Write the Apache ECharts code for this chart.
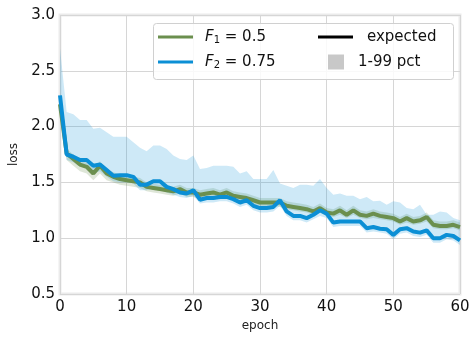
<!DOCTYPE html>
<html>
<head>
<meta charset="utf-8">
<style>
  html, body { margin: 0; padding: 0; background: #fff; }
  #chart { width: 474px; height: 337px; }
</style>
<script src="https://cdn.jsdelivr.net/npm/echarts@6/dist/echarts.min.js"></script>
</head>
<body>
<div id="chart"></div>
<script>
// epochs 0..60
const epochs = Array.from({ length: 61 }, (_, i) => i);

const greenMean = [2.20, 1.76, 1.71, 1.66, 1.64, 1.58, 1.65, 1.58, 1.55, 1.53, 1.52, 1.51, 1.50, 1.46, 1.45, 1.44, 1.43, 1.42, 1.44, 1.41, 1.41, 1.39, 1.40, 1.41, 1.39, 1.41, 1.38, 1.37, 1.36, 1.34, 1.32, 1.32, 1.32, 1.32, 1.29, 1.28, 1.27, 1.26, 1.24, 1.27, 1.23, 1.22, 1.25, 1.21, 1.25, 1.21, 1.20, 1.22, 1.20, 1.19, 1.18, 1.15, 1.18, 1.15, 1.16, 1.19, 1.12, 1.11, 1.11, 1.12, 1.10];
const greenLo = [2.12, 1.70, 1.65, 1.60, 1.58, 1.52, 1.58, 1.52, 1.50, 1.48, 1.47, 1.46, 1.45, 1.42, 1.41, 1.40, 1.39, 1.38, 1.40, 1.37, 1.37, 1.35, 1.36, 1.37, 1.35, 1.37, 1.34, 1.33, 1.32, 1.30, 1.29, 1.28, 1.29, 1.28, 1.26, 1.25, 1.24, 1.23, 1.21, 1.23, 1.20, 1.19, 1.21, 1.18, 1.21, 1.18, 1.17, 1.18, 1.17, 1.16, 1.15, 1.12, 1.14, 1.12, 1.13, 1.15, 1.09, 1.08, 1.08, 1.09, 1.07];
const greenHi = [2.30, 1.80, 1.75, 1.70, 1.68, 1.63, 1.69, 1.62, 1.59, 1.57, 1.56, 1.55, 1.54, 1.50, 1.49, 1.48, 1.47, 1.46, 1.48, 1.45, 1.45, 1.43, 1.44, 1.45, 1.43, 1.45, 1.42, 1.41, 1.40, 1.38, 1.36, 1.36, 1.36, 1.36, 1.33, 1.32, 1.31, 1.30, 1.28, 1.31, 1.27, 1.26, 1.29, 1.25, 1.29, 1.25, 1.24, 1.26, 1.24, 1.23, 1.22, 1.19, 1.22, 1.19, 1.20, 1.23, 1.16, 1.15, 1.15, 1.16, 1.14];

const blueMean = [2.28, 1.75, 1.73, 1.70, 1.70, 1.65, 1.66, 1.61, 1.56, 1.565, 1.565, 1.55, 1.48, 1.48, 1.51, 1.51, 1.46, 1.44, 1.41, 1.40, 1.43, 1.345, 1.36, 1.36, 1.37, 1.37, 1.35, 1.32, 1.34, 1.29, 1.27, 1.27, 1.28, 1.34, 1.24, 1.20, 1.20, 1.18, 1.21, 1.25, 1.22, 1.14, 1.15, 1.15, 1.15, 1.15, 1.09, 1.10, 1.085, 1.08, 1.03, 1.08, 1.09, 1.06, 1.05, 1.07, 1.00, 1.00, 1.03, 1.02, 0.98];
const blueLo = [2.15, 1.70, 1.68, 1.64, 1.63, 1.58, 1.60, 1.55, 1.51, 1.50, 1.50, 1.49, 1.43, 1.43, 1.45, 1.44, 1.41, 1.39, 1.37, 1.36, 1.38, 1.31, 1.32, 1.32, 1.33, 1.33, 1.31, 1.28, 1.30, 1.25, 1.23, 1.23, 1.24, 1.29, 1.20, 1.16, 1.16, 1.14, 1.17, 1.20, 1.18, 1.10, 1.11, 1.11, 1.11, 1.11, 1.05, 1.06, 1.05, 1.04, 0.99, 1.04, 1.05, 1.02, 1.01, 1.03, 0.96, 0.96, 0.99, 0.98, 0.94];
const blueHi = [2.70, 2.13, 2.11, 2.06, 2.06, 1.98, 1.99, 1.95, 1.91, 1.91, 1.91, 1.86, 1.81, 1.78, 1.83, 1.83, 1.80, 1.74, 1.71, 1.70, 1.74, 1.62, 1.63, 1.65, 1.65, 1.65, 1.64, 1.58, 1.60, 1.53, 1.53, 1.53, 1.61, 1.49, 1.47, 1.45, 1.48, 1.48, 1.47, 1.53, 1.45, 1.39, 1.40, 1.38, 1.38, 1.35, 1.37, 1.33, 1.335, 1.30, 1.33, 1.32, 1.27, 1.26, 1.30, 1.21, 1.21, 1.24, 1.23, 1.18, 1.16];

const green = '#6b8f4e';
const blue = '#0b8fd5';
const font = 'DejaVu Sans';

const pairs = (ys) => epochs.map((x, i) => [x, ys[i]]);

// percentile band as one polygon, positioned through the axes
function band(lo, hi, color) {
  return {
    type: 'custom',
    silent: true,
    z: 1,
    data: epochs.map((x, i) => [x, lo[i], hi[i]]),
    encode: { x: 0, y: [1, 2] },
    renderItem: (params, api) => {
      if (params.dataIndex !== 0) return null;
      const top = epochs.map((x, i) => api.coord([x, hi[i]]));
      const bottom = epochs.map((x, i) => api.coord([x, lo[i]])).reverse();
      return {
        type: 'polygon',
        shape: { points: top.concat(bottom) },
        style: { fill: color },
      };
    },
  };
}

const rich = {
  i: { fontFamily: font, fontStyle: 'italic', fontSize: 15, color: '#111', padding: [0, 0, 0, 7] },
  s: { fontFamily: font, fontSize: 10, color: '#111', padding: [7, 0, 0, 0] },
  n: { fontFamily: font, fontSize: 15, color: '#111' },
  t: { fontFamily: font, fontSize: 15, color: '#111', padding: [0, 0, 0, 9] },
};

const chart = echarts.init(document.getElementById('chart'));
chart.setOption({
  animation: false,
  backgroundColor: '#fff',
  grid: {
    left: 57, right: 14, top: 15, bottom: 41,
    show: true, borderColor: '#ebebeb', borderWidth: 3,
  },
  xAxis: {
    type: 'value', min: 0, max: 60, interval: 10,
    name: 'epoch', nameLocation: 'middle', nameGap: 26,
    nameTextStyle: { fontFamily: font, fontSize: 12, color: '#222' },
    axisLine: { show: false }, axisTick: { show: false },
    axisLabel: { fontFamily: font, fontSize: 15, color: '#111', margin: 6 },
    splitLine: { lineStyle: { color: '#d6d6d6', width: 1 } },
  },
  yAxis: {
    type: 'value', min: 0.5, max: 3.0, interval: 0.5,
    name: 'loss', nameLocation: 'middle', nameGap: 40,
    nameTextStyle: { fontFamily: font, fontSize: 12, color: '#222' },
    axisLine: { show: false }, axisTick: { show: false },
    axisLabel: { fontFamily: font, fontSize: 15, color: '#111', margin: 5, formatter: (v) => v.toFixed(1) },
    splitLine: { lineStyle: { color: '#d6d6d6', width: 1 } },
  },
  graphic: [{
    type: 'rect', left: 153, top: 23, z: 100,
    shape: { width: 300, height: 56, r: 3 },
    style: { fill: 'rgba(255,255,255,0.85)', stroke: '#d0d0d0', lineWidth: 1 },
  }],
  legend: [
    {
      data: ['F1', 'F2'], orient: 'vertical', left: 158, top: 28, padding: 0,
      itemWidth: 35, itemHeight: 3, itemGap: 7, icon: 'rect', z: 110,
      textStyle: { fontFamily: font, fontSize: 15, lineHeight: 18, color: '#111', rich: rich },
      formatter: (name) => name === 'F1' ? '{i|F}{s|1}{n| = 0.5}' : '{i|F}{s|2}{n| = 0.75}',
    },
    {
      data: ['expected'], left: 318, top: 28, padding: 0,
      itemWidth: 35, itemHeight: 3, icon: 'rect', z: 110,
      textStyle: { fontFamily: font, fontSize: 15, lineHeight: 18, color: '#111', rich: rich },
      formatter: (name) => '{t|' + name + '}',
    },
    {
      data: ['1-99 pct'], left: 328, top: 53, padding: 0,
      itemWidth: 16, itemHeight: 15, icon: 'rect', z: 110,
      textStyle: { fontFamily: font, fontSize: 15, lineHeight: 18, color: '#111', rich: rich },
      formatter: (name) => '{t|' + name + '}',
    },
  ],
  series: [
    band(greenLo, greenHi, 'rgba(107,143,78,0.22)'),
    band(blueLo, blueHi, 'rgba(11,143,213,0.2)'),
    {
      name: 'F1', type: 'line', data: pairs(greenMean), showSymbol: false, color: green,
      lineStyle: { color: green, width: 4 }, z: 3,
    },
    {
      name: 'F2', type: 'line', data: pairs(blueMean), showSymbol: false, color: blue,
      lineStyle: { color: blue, width: 4 }, z: 4,
    },
    { name: 'expected', type: 'line', data: [], color: '#000' },
    { name: '1-99 pct', type: 'line', data: [], color: '#c8c8c8' },
  ],
});
</script>
</body>
</html>
